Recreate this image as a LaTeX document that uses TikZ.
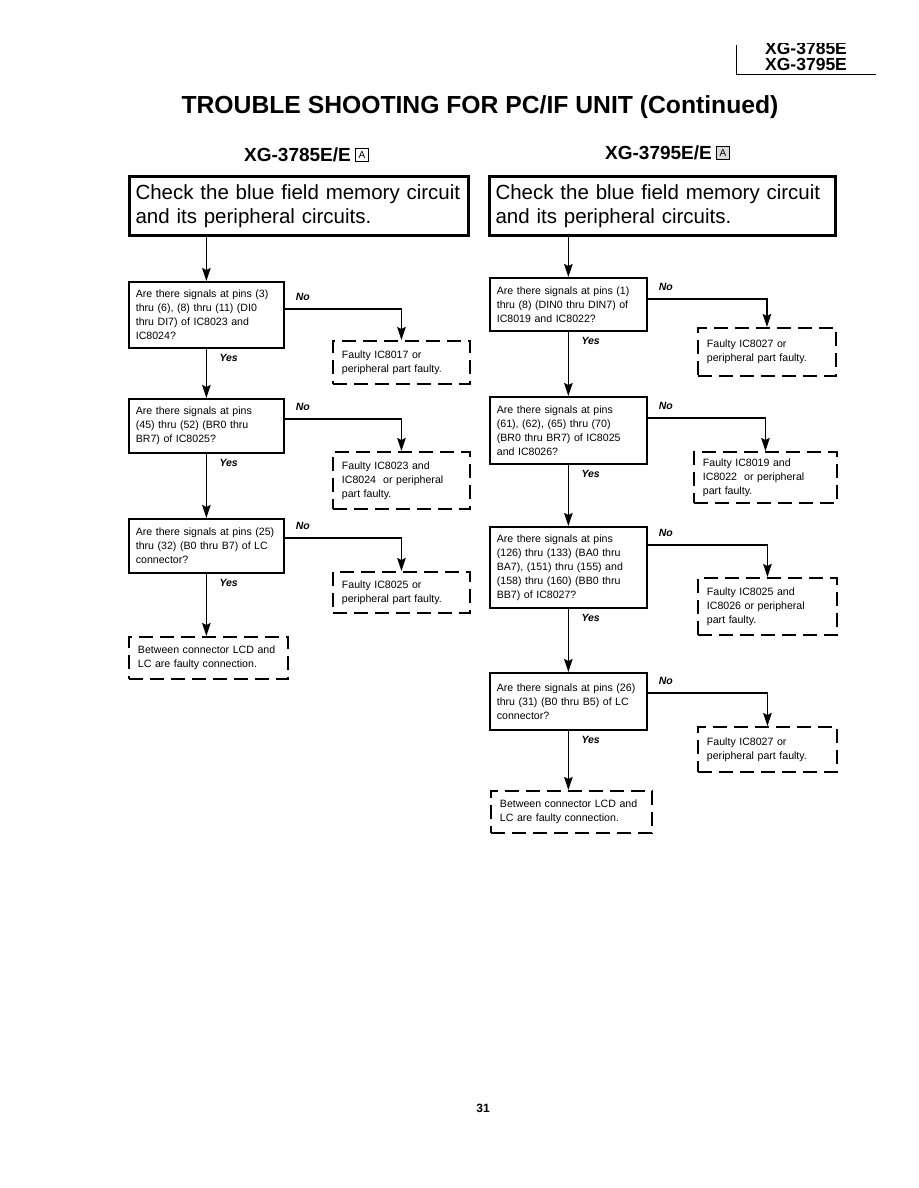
\documentclass[tikz,border=0pt]{standalone}
\usepackage{fontspec}
\setmainfont{Liberation Sans}
\usetikzlibrary{arrows.meta,positioning}

\begin{document}
\begin{tikzpicture}[x=1pt,y=-1pt, every node/.style={font=\fontsize{10.6}{14}\selectfont},
  q/.style={draw,line width=1.7pt,anchor=north west,align=left,inner xsep=7pt,inner ysep=0pt},
  fb/.style={draw,line width=1.9pt,dash pattern=on 14pt off 7pt,anchor=north west,align=left,inner xsep=9pt,inner ysep=0pt},
  hb/.style={draw,line width=3pt,anchor=north west,align=left,inner xsep=6pt,inner ysep=0pt,font=\fontsize{20.5}{23.5}\selectfont},
  lbl/.style={font=\fontsize{10.5}{12}\selectfont\bfseries\itshape},
  hd/.style={font=\fontsize{19}{22}\selectfont\bfseries,inner sep=0pt},
  mdl/.style={font=\fontsize{17.5}{20}\selectfont\bfseries,anchor=west,inner sep=0pt,text height=12.6pt,text depth=0pt},
  abox/.style={draw,line width=0.8pt,inner sep=0pt,minimum size=13pt,font=\fontsize{10}{10}\selectfont},
  arr/.style={line width=1.7pt,-{Stealth[length=13pt,width=8.5pt,inset=2pt]}}]
\useasboundingbox (0,0) rectangle (918,1188);
% page header
\draw[line width=1pt] (736,45) -- (736,75) -- (876,75);
\begin{scope}
  \clip (740,44) rectangle (900,55);
  \node[mdl] (m1) at (765,48) {XG-3785E};
\end{scope}
\node[mdl] (m2) at (765,64.5) {XG-3795E};
\node[font=\fontsize{24.7}{28}\selectfont\bfseries] (title) at (480,107) {TROUBLE SHOOTING FOR PC/IF UNIT (Continued)};
\node[hd,anchor=west] (hdl) at (244,155) {XG-3785E/E};
\node[abox,right=4pt of hdl] (al) {A};
\node[hd,anchor=west] (hdr) at (605,153) {XG-3795E/E};
\node[abox,fill=gray!30,right=4pt of hdr] (ar) {A};
% left column
\node[hb,minimum height=59pt,text width=327pt] (hl) at (128,175) {Check the blue field memory circuit\\and its peripheral circuits.};
\node[q,minimum height=66pt,text width=141pt] (q1) at (128,281) {Are there signals at pins (3)\\thru (6), (8) thru (11) (DI0\\thru DI7) of IC8023 and\\IC8024?};
\node[fb,minimum height=43pt,text width=119pt] (d1) at (332,340) {Faulty IC8017 or\\peripheral part faulty.};
\node[q,minimum height=54pt,text width=141pt] (q2) at (128,398) {Are there signals at pins\\(45) thru (52) (BR0 thru\\BR7) of IC8025?};
\node[fb,minimum height=57pt,text width=119pt] (d2) at (332,451) {Faulty IC8023 and\\IC8024\ \ or peripheral\\part faulty.};
\node[q,minimum height=54pt,text width=141pt] (q3) at (128,518) {Are there signals at pins (25)\\thru (32) (B0 thru B7) of LC\\connector?};
\node[fb,minimum height=41pt,text width=119pt] (d3) at (332,571) {Faulty IC8025 or\\peripheral part faulty.};
\node[fb,minimum height=42pt,text width=141pt] (d4) at (128,636) {Between connector LCD and\\LC are faulty connection.};
% right column
\node[hb,minimum height=59pt,text width=334pt] (hr) at (488,175) {Check the blue field memory circuit\\and its peripheral circuits.};
\node[q,minimum height=53pt,text width=143pt] (r1) at (489,277) {Are there signals at pins (1)\\thru (8) (DIN0 thru DIN7) of\\IC8019 and IC8022?};
\node[fb,minimum height=48pt,text width=120pt] (dr1) at (697,327) {Faulty IC8027 or\\peripheral part faulty.};
\node[q,minimum height=67pt,text width=143pt] (r2) at (489,396) {Are there signals at pins\\(61), (62), (65) thru (70)\\(BR0 thru BR7) of IC8025\\and IC8026?};
\node[fb,minimum height=51pt,text width=125pt] (dr2) at (693,451) {Faulty IC8019 and\\IC8022\ \ or peripheral\\part faulty.};
\node[q,minimum height=81pt,text width=143pt] (r3) at (489,526) {Are there signals at pins\\(126) thru (133) (BA0 thru\\BA7), (151) thru (155) and\\(158) thru (160) (BB0 thru\\BB7) of IC8027?};
\node[fb,minimum height=57pt,text width=121pt] (dr3) at (697,577) {Faulty IC8025 and\\IC8026 or peripheral\\part faulty.};
\node[q,minimum height=57pt,text width=143pt] (r4) at (489,672) {Are there signals at pins (26)\\thru (31) (B0 thru B5) of LC\\connector?};
\node[fb,minimum height=45pt,text width=121pt] (dr4) at (697,726) {Faulty IC8027 or\\peripheral part faulty.};
\node[fb,minimum height=42pt,text width=143pt] (dr5) at (490,790) {Between connector LCD and\\LC are faulty connection.};
\node[font=\fontsize{12}{14}\selectfont\bfseries] (pg) at (483,1108) {31};
% connectors
\draw[arr] (q1.north |- hl.south) -- (q1.north);
\draw[arr] (r1.north |- hr.south) -- (r1.north);
\foreach \u/\v in {q1/q2,q2/q3,q3/d4,r1/r2,r2/r3,r3/r4,r4/dr5}
  \draw[arr] (\u) -- (\u.south |- \v.north) node[lbl,pos=0,anchor=north west,xshift=9pt,yshift=-1pt] {Yes};
\foreach \u/\v/\s in {q1/d1/28pt,q2/d2/21pt,q3/d3/20pt,r1/dr1/22pt,r2/dr2/22pt,r3/dr3/19pt,r4/dr4/21pt}
  \draw[arr] ([yshift=-\s]\u.north east) -| (\v.north) node[lbl,pos=0,anchor=south west,xshift=7pt,yshift=4pt] {No};
\end{tikzpicture}
\end{document}
